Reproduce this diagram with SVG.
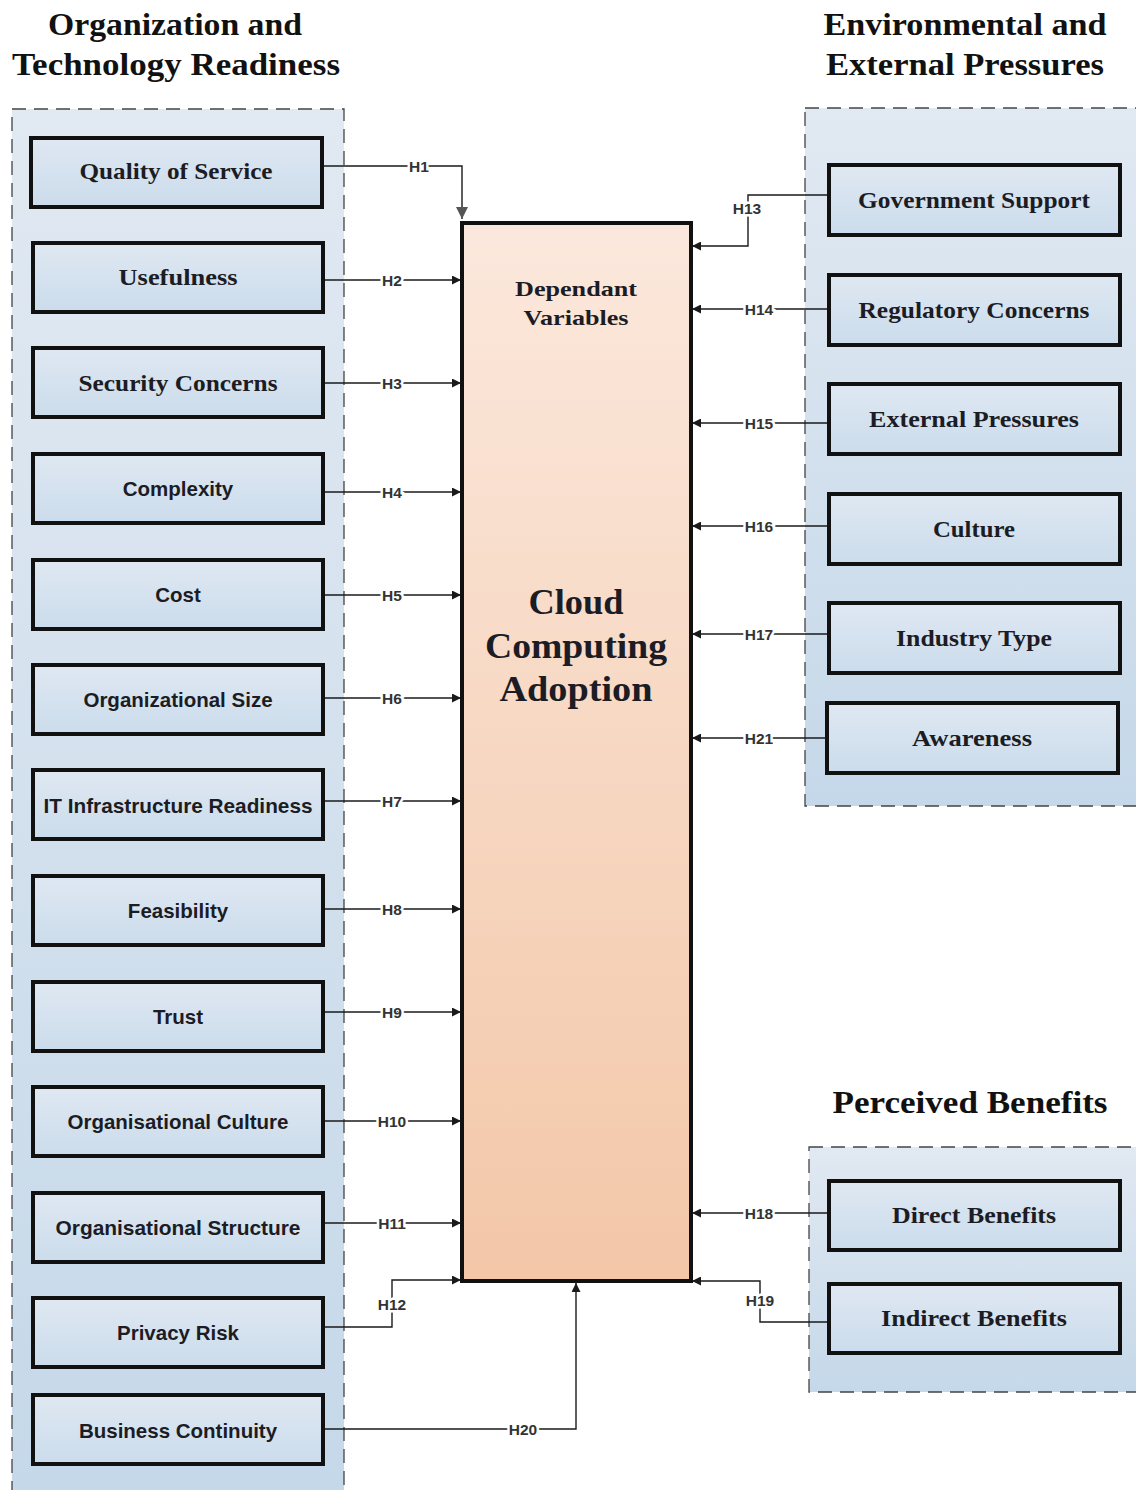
<svg xmlns="http://www.w3.org/2000/svg" width="1136" height="1490" viewBox="0 0 1136 1490">
<defs>
<linearGradient id="grpFill" x1="0" y1="0" x2="0" y2="1">
<stop offset="0" stop-color="#e1e9f2"/>
<stop offset="1" stop-color="#c5d8e9"/>
</linearGradient>
<linearGradient id="boxFill" x1="0" y1="0" x2="0" y2="1">
<stop offset="0" stop-color="#dfe8f2"/>
<stop offset="1" stop-color="#cbdcec"/>
</linearGradient>
<linearGradient id="mainFill" x1="0" y1="0" x2="0" y2="1">
<stop offset="0" stop-color="#fbe8dc"/>
<stop offset="1" stop-color="#f3c7a8"/>
</linearGradient>
<marker id="arr" viewBox="0 0 10 10" refX="10" refY="5" markerWidth="9" markerHeight="9" markerUnits="userSpaceOnUse" orient="auto">
<path d="M0,0 L10,5 L0,10 z" fill="#1a1a1a"/>
</marker>
<marker id="arrG" viewBox="0 0 10 10" refX="10" refY="5" markerWidth="12" markerHeight="12" markerUnits="userSpaceOnUse" orient="auto">
<path d="M0,0 L10,5 L0,10 z" fill="#555"/>
</marker>
</defs>
<style>
.grp{fill:url(#grpFill);stroke:#444;stroke-width:1.3;stroke-dasharray:14 8}
.box{fill:url(#boxFill);stroke:#111;stroke-width:4}
.serif{font-family:"Liberation Serif","DejaVu Serif",serif;font-weight:bold;fill:#1c1c24;text-anchor:middle;dominant-baseline:central}
.sans{font-family:"Liberation Sans","Noto Sans",sans-serif;font-weight:bold;fill:#1c1c24;text-anchor:middle;dominant-baseline:central}
.nt{font-size:23px}
.ns{font-size:20.5px}
.title{font-family:"Liberation Serif","DejaVu Serif",serif;font-weight:bold;font-size:31px;fill:#111;text-anchor:middle}
.ln{fill:none;stroke:#1a1a1a;stroke-width:1.4}
.lbl{font-family:"Liberation Sans","Noto Sans",sans-serif;font-weight:bold;font-size:15.5px;fill:#333;text-anchor:middle;dominant-baseline:central;stroke:#fff;stroke-width:5;paint-order:stroke}
</style>
<rect width="1136" height="1490" fill="#fff"/>

<text class="title" x="175" y="35" textLength="254" lengthAdjust="spacingAndGlyphs">Organization and</text>
<text class="title" x="176" y="75" textLength="328" lengthAdjust="spacingAndGlyphs">Technology Readiness</text>
<text class="title" x="965" y="35" textLength="283" lengthAdjust="spacingAndGlyphs">Environmental and</text>
<text class="title" x="965" y="75" textLength="278" lengthAdjust="spacingAndGlyphs">External Pressures</text>
<text class="title" x="970" y="1113" textLength="275" lengthAdjust="spacingAndGlyphs">Perceived Benefits</text>

<rect class="grp" x="12" y="109" width="332" height="1395"/>
<rect class="grp" x="805" y="108" width="345" height="698"/>
<rect class="grp" x="809" y="1147" width="340" height="245"/>

<g id="connectors">
<path class="ln" d="M323,166 H462 V219" stroke="#555" marker-end="url(#arrG)"/>
<path class="ln" d="M323,280 H461" marker-end="url(#arr)"/>
<path class="ln" d="M323,383 H461" marker-end="url(#arr)"/>
<path class="ln" d="M323,492 H461" marker-end="url(#arr)"/>
<path class="ln" d="M323,595 H461" marker-end="url(#arr)"/>
<path class="ln" d="M323,698 H461" marker-end="url(#arr)"/>
<path class="ln" d="M323,801 H461" marker-end="url(#arr)"/>
<path class="ln" d="M323,909 H461" marker-end="url(#arr)"/>
<path class="ln" d="M323,1012 H461" marker-end="url(#arr)"/>
<path class="ln" d="M323,1121 H461" marker-end="url(#arr)"/>
<path class="ln" d="M323,1223 H461" marker-end="url(#arr)"/>
<path class="ln" d="M323,1327 H392 V1280 H461" marker-end="url(#arr)"/>
<path class="ln" d="M323,1429 H576 V1283" marker-end="url(#arr)"/>
<path class="ln" d="M829,195 H748 V246 H692" marker-end="url(#arr)"/>
<path class="ln" d="M829,309 H692" marker-end="url(#arr)"/>
<path class="ln" d="M829,423 H692" marker-end="url(#arr)"/>
<path class="ln" d="M829,526 H692" marker-end="url(#arr)"/>
<path class="ln" d="M829,634 H692" marker-end="url(#arr)"/>
<path class="ln" d="M827,738 H692" marker-end="url(#arr)"/>
<path class="ln" d="M829,1213 H692" marker-end="url(#arr)"/>
<path class="ln" d="M829,1322 H760 V1281 H692" marker-end="url(#arr)"/>
<text class="lbl" x="419" y="166">H1</text>
<text class="lbl" x="392" y="280">H2</text>
<text class="lbl" x="392" y="383">H3</text>
<text class="lbl" x="392" y="492">H4</text>
<text class="lbl" x="392" y="595">H5</text>
<text class="lbl" x="392" y="698">H6</text>
<text class="lbl" x="392" y="801">H7</text>
<text class="lbl" x="392" y="909">H8</text>
<text class="lbl" x="392" y="1012">H9</text>
<text class="lbl" x="392" y="1121">H10</text>
<text class="lbl" x="392" y="1223">H11</text>
<text class="lbl" x="392" y="1304">H12</text>
<text class="lbl" x="523" y="1429">H20</text>
<text class="lbl" x="747" y="208">H13</text>
<text class="lbl" x="759" y="309">H14</text>
<text class="lbl" x="759" y="423">H15</text>
<text class="lbl" x="759" y="526">H16</text>
<text class="lbl" x="759" y="634">H17</text>
<text class="lbl" x="759" y="738">H21</text>
<text class="lbl" x="759" y="1213">H18</text>
<text class="lbl" x="760" y="1300">H19</text>
</g>

<g id="cloud-computing-adoption">
<rect x="462" y="223" width="229" height="1058" fill="url(#mainFill)" stroke="#111" stroke-width="4"/>
<text class="serif" x="576" y="288" font-size="22" textLength="122" lengthAdjust="spacingAndGlyphs">Dependant</text>
<text class="serif" x="576" y="317" font-size="22" textLength="105" lengthAdjust="spacingAndGlyphs">Variables</text>
<text class="serif" x="576" y="602" font-size="36" textLength="95" lengthAdjust="spacingAndGlyphs">Cloud</text>
<text class="serif" x="576" y="646" font-size="36" textLength="182" lengthAdjust="spacingAndGlyphs">Computing</text>
<text class="serif" x="576" y="689" font-size="36" textLength="153" lengthAdjust="spacingAndGlyphs">Adoption</text>
</g>

<g id="quality-of-service"><rect class="box" x="31" y="138" width="291" height="69"/><text class="serif nt" x="176" y="171" textLength="193" lengthAdjust="spacingAndGlyphs">Quality of Service</text></g>
<g id="usefulness"><rect class="box" x="33" y="243" width="290" height="69"/><text class="serif nt" x="178" y="277" textLength="119" lengthAdjust="spacingAndGlyphs">Usefulness</text></g>
<g id="security-concerns"><rect class="box" x="33" y="348" width="290" height="69"/><text class="serif nt" x="178" y="383" textLength="199" lengthAdjust="spacingAndGlyphs">Security Concerns</text></g>
<g id="complexity"><rect class="box" x="33" y="454" width="290" height="69"/><text class="sans ns" x="178" y="488">Complexity</text></g>
<g id="cost"><rect class="box" x="33" y="560" width="290" height="69"/><text class="sans ns" x="178" y="594">Cost</text></g>
<g id="organizational-size"><rect class="box" x="33" y="665" width="290" height="69"/><text class="sans ns" x="178" y="699">Organizational Size</text></g>
<g id="it-infrastructure-readiness"><rect class="box" x="33" y="770" width="290" height="69"/><text class="sans ns" x="178" y="805" textLength="269" lengthAdjust="spacingAndGlyphs">IT Infrastructure Readiness</text></g>
<g id="feasibility"><rect class="box" x="33" y="876" width="290" height="69"/><text class="sans ns" x="178" y="910">Feasibility</text></g>
<g id="trust"><rect class="box" x="33" y="982" width="290" height="69"/><text class="sans ns" x="178" y="1016">Trust</text></g>
<g id="organisational-culture"><rect class="box" x="33" y="1087" width="290" height="69"/><text class="sans ns" x="178" y="1121">Organisational Culture</text></g>
<g id="organisational-structure"><rect class="box" x="33" y="1193" width="290" height="69"/><text class="sans ns" x="178" y="1227" textLength="245" lengthAdjust="spacingAndGlyphs">Organisational Structure</text></g>
<g id="privacy-risk"><rect class="box" x="33" y="1298" width="290" height="69"/><text class="sans ns" x="178" y="1332">Privacy Risk</text></g>
<g id="business-continuity"><rect class="box" x="33" y="1395" width="290" height="69"/><text class="sans ns" x="178" y="1430">Business Continuity</text></g>

<g id="government-support"><rect class="box" x="829" y="165" width="291" height="70"/><text class="serif nt" x="974" y="200" textLength="232" lengthAdjust="spacingAndGlyphs">Government Support</text></g>
<g id="regulatory-concerns"><rect class="box" x="829" y="275" width="291" height="70"/><text class="serif nt" x="974" y="310" textLength="231" lengthAdjust="spacingAndGlyphs">Regulatory Concerns</text></g>
<g id="external-pressures"><rect class="box" x="829" y="384" width="291" height="70"/><text class="serif nt" x="974" y="419" textLength="210" lengthAdjust="spacingAndGlyphs">External Pressures</text></g>
<g id="culture"><rect class="box" x="829" y="494" width="291" height="70"/><text class="serif nt" x="974" y="529" textLength="82" lengthAdjust="spacingAndGlyphs">Culture</text></g>
<g id="industry-type"><rect class="box" x="829" y="603" width="291" height="70"/><text class="serif nt" x="974" y="638" textLength="156" lengthAdjust="spacingAndGlyphs">Industry Type</text></g>
<g id="awareness"><rect class="box" x="827" y="703" width="291" height="70"/><text class="serif nt" x="972" y="738" textLength="120" lengthAdjust="spacingAndGlyphs">Awareness</text></g>

<g id="direct-benefits"><rect class="box" x="829" y="1181" width="291" height="69"/><text class="serif nt" x="974" y="1215" textLength="164" lengthAdjust="spacingAndGlyphs">Direct Benefits</text></g>
<g id="indirect-benefits"><rect class="box" x="829" y="1284" width="291" height="69"/><text class="serif nt" x="974" y="1318" textLength="186" lengthAdjust="spacingAndGlyphs">Indirect Benefits</text></g>
</svg>
